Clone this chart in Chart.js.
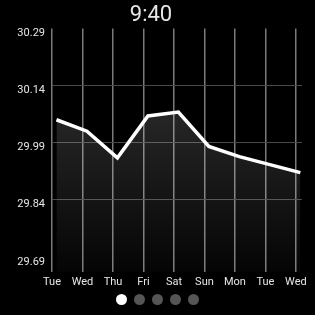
<!DOCTYPE html>
<html>
<head>
<meta charset="utf-8">
<script src="https://cdn.jsdelivr.net/npm/chart.js@4.4.1/dist/chart.umd.min.js"></script>
<style>
  html, body { margin: 0; padding: 0; background: #000; }
  #wrap { position: relative; width: 315px; height: 315px; }
  #grafica { display: block; }
  .puntos { position: absolute; left: 0; right: 0; top: 294px; text-align: center; font-size: 0; }
  .punto { display: inline-block; width: 11px; height: 11px; border-radius: 50%; background: #555; margin: 0 3.5px; }
  .punto.activo { background: #fff; }
</style>
</head>
<body>
<div id="wrap">
  <canvas id="grafica" width="315" height="315"></canvas>
  <div class="puntos">
    <span class="punto activo"></span><span class="punto"></span><span class="punto"></span><span class="punto"></span><span class="punto"></span>
  </div>
</div>
<script>
// dias de la semana (eje x)
const dias = ['Tue', 'Wed', 'Thu', 'Fri', 'Sat', 'Sun', 'Mon', 'Tue', 'Wed'];
// presion (inHg) leida cada dia
const presion = [30.05, 30.02, 29.95, 30.06, 30.07, 29.98, 29.953, 29.932, 29.911];
// hora de la lectura, en horas despues de medianoche
const horaLectura = 3.5;
// etiquetas del eje y
const ticksY = [29.69, 29.84, 29.99, 30.14, 30.29];
const titulo = '9:40';

document.addEventListener("DOMContentLoaded", function() {
    const ctx = document.getElementById('grafica').getContext('2d');
    const puntos = presion.map((v, i) => ({ x: i + horaLectura / 24, y: v }));

    new Chart(ctx, {
        type: 'line',
        data: {
            datasets: [{
                data: puntos,
                borderColor: '#ffffff',
                borderWidth: 3.5,
                pointRadius: 0,
                tension: 0,
                fill: 'start',
                backgroundColor: function(context) {
                    const area = context.chart.chartArea;
                    if (!area) return 'rgba(255,255,255,0.1)';
                    const g = context.chart.ctx.createLinearGradient(0, area.top, 0, area.bottom);
                    g.addColorStop(0, 'rgba(255,255,255,0.22)');
                    g.addColorStop(1, 'rgba(255,255,255,0.02)');
                    return g;
                }
            }]
        },
        options: {
            responsive: false,
            animation: false,
            layout: { padding: { left: 0, right: 13, top: 0, bottom: 0 } },
            plugins: {
                legend: { display: false },
                tooltip: { enabled: false },
                title: {
                    display: true,
                    text: titulo,
                    color: '#e6e6e6',
                    font: { family: 'Roboto', size: 22, weight: 'normal' },
                    padding: { top: 2, bottom: 0 }
                }
            },
            scales: {
                x: {
                    type: 'linear',
                    min: 0,
                    max: 8.2,
                    afterBuildTicks: function(scale) {
                        scale.ticks = dias.map((d, i) => ({ value: i }));
                    },
                    afterFit: function(scale) { scale.height = 43; },
                    ticks: {
                        color: '#e6e6e6',
                        font: { family: 'Roboto', size: 11 },
                        padding: 4,
                        maxRotation: 0,
                        autoSkip: false,
                        callback: function(value, index) { return dias[index]; }
                    },
                    grid: { color: '#7a7a7a', lineWidth: 1.5, drawTicks: false },
                    border: { display: false }
                },
                y: {
                    min: 29.65,
                    max: 30.29,
                    afterBuildTicks: function(scale) {
                        scale.ticks = ticksY.map(v => ({ value: v }));
                    },
                    afterFit: function(scale) { scale.width = 52; },
                    ticks: {
                        color: '#e6e6e6',
                        font: { family: 'Roboto', size: 11 },
                        padding: 7,
                        labelOffset: 5,
                        callback: function(value) { return value.toFixed(2); }
                    },
                    grid: {
                        lineWidth: 1,
                        drawTicks: false,
                        color: function(c) {
                            return (c.index === 0 || c.index === ticksY.length - 1) ? 'rgba(0,0,0,0)' : '#4a4a4a';
                        }
                    },
                    border: { display: false }
                }
            }
        }
    });
});
</script>
</body>
</html>
